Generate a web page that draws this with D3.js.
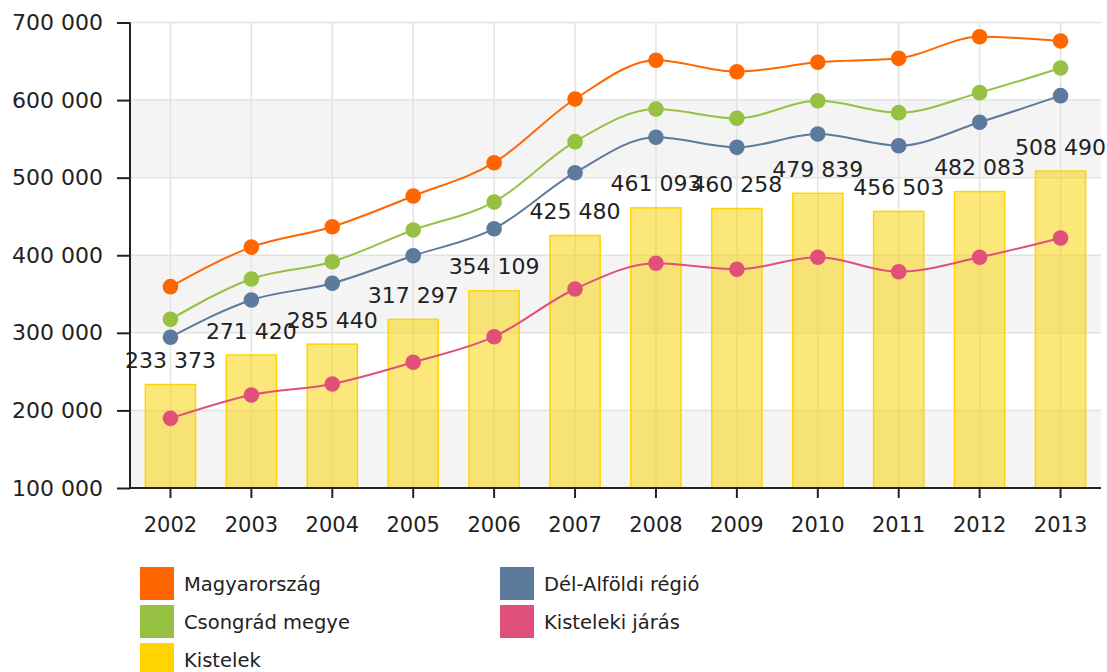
<!DOCTYPE html>
<html lang="hu">
<head>
	<meta charset="utf-8">
	<title>Kistelek</title>
	<script src="https://d3js.org/d3.v7.min.js"></script>
	<style type="text/css">
		body {
			margin: 0;
			background: #fff;
		}
		text {
			font-family: "DejaVu Sans", Verdana, sans-serif;
			fill: #222;
		}
		.axis text {
			font-size: 21px;
		}
		.y-axis text {
			font-size: 22px;
		}
		.legend text {
			font-size: 19.5px;
		}
	</style>
</head>
<body>
<script type="text/javascript">
// Data
var years = ["2002", "2003", "2004", "2005", "2006", "2007", "2008", "2009", "2010", "2011", "2012", "2013"];
var yTicks = [100000, 200000, 300000, 400000, 500000, 600000, 700000];

var kistelek = [233373, 271420, 285440, 317297, 354109, 425480, 461093, 460258, 479839, 456503, 482083, 508490];
var magyarorszag = [359500, 410500, 436800, 476400, 519300, 601400, 651300, 636600, 648700, 653800, 681700, 676200];
var csongrad = [317400, 369400, 391700, 432600, 468700, 546400, 588500, 576500, 599200, 583800, 609600, 641400];
var delAlfold = [294300, 342300, 363900, 399400, 434200, 506400, 552000, 539100, 556300, 541200, 571400, 605700];
var kisteleki = [189800, 219900, 234100, 262000, 295000, 356500, 389600, 381900, 397400, 378800, 397400, 422300];

var lineNames = ["Magyarország", "Csongrád megye", "Dél-Alföldi régió", "Kisteleki járás"];
var lineValues = [magyarorszag, csongrad, delAlfold, kisteleki];
var lineColors = ["#ff6600", "#96c143", "#5c7a9b", "#e0507a"];
var barName = "Kistelek";
var barColor = "#ffd400";

// Size and margins
var margin = {top: 22.5, right: 6, bottom: 184, left: 130};
var outer_width = 1107;
var outer_height = 672;
var width = outer_width - margin.left - margin.right;
var height = outer_height - margin.top - margin.bottom;

var svg = d3.select("body")
	.append("svg")
	.attr("width", outer_width)
	.attr("height", outer_height);

var g = svg.append("g")
	.attr("transform", "translate(" + margin.left + "," + margin.top + ")");

var xScale = d3.scaleBand()
	.domain(years)
	.range([0, width])
	.padding(0);

var yScale = d3.scaleLinear()
	.domain([100000, 700000])
	.range([height, 0]);

var hu = d3.formatLocale({decimal: ",", thousands: " ", grouping: [3], currency: ["", ""]});
var fmt = hu.format(",d");

function cx(i) {
	return xScale(years[i]) + xScale.bandwidth() / 2;
}

// Alternating background bands
g.selectAll(".band")
	.data(yTicks.slice(0, -1))
	.enter()
	.append("rect")
	.attr("class", "band")
	.attr("x", 0)
	.attr("width", width)
	.attr("y", function(d) { return yScale(d + 100000); })
	.attr("height", function(d) { return yScale(d) - yScale(d + 100000); })
	.style("fill", function(d, i) { return i % 2 == 0 ? "#f4f4f4" : "#fff"; });

// Horizontal grid
g.selectAll(".hgrid")
	.data(yTicks)
	.enter()
	.append("line")
	.attr("x1", 0)
	.attr("x2", width)
	.attr("y1", function(d) { return yScale(d); })
	.attr("y2", function(d) { return yScale(d); })
	.style("stroke", "#e3e3e3")
	.style("stroke-width", 1.5);

// Vertical grid at category centres
g.selectAll(".vgrid")
	.data(years)
	.enter()
	.append("line")
	.attr("x1", function(d, i) { return cx(i); })
	.attr("x2", function(d, i) { return cx(i); })
	.attr("y1", 0)
	.attr("y2", height)
	.style("stroke", "#e3e3e3")
	.style("stroke-width", 1.5);

// Bars
var barW = xScale.bandwidth() * 0.62;
g.selectAll(".bar")
	.data(kistelek)
	.enter()
	.append("rect")
	.attr("class", "bar")
	.attr("x", function(d, i) { return cx(i) - barW / 2; })
	.attr("y", function(d) { return yScale(d); })
	.attr("width", barW)
	.attr("height", function(d) { return height - yScale(d); })
	.style("fill", "rgba(250, 210, 0, 0.52)")
	.style("stroke", barColor)
	.style("stroke-width", 1.5);

// Lines and markers
var line = d3.line()
	.x(function(d, i) { return cx(i); })
	.y(function(d) { return yScale(d); })
	.curve(d3.curveMonotoneX);

lineValues.forEach(function(vals, k) {
	g.append("path")
		.datum(vals)
		.attr("d", line)
		.style("fill", "none")
		.style("stroke", lineColors[k])
		.style("stroke-width", 2);

	g.selectAll(".dot" + k)
		.data(vals)
		.enter()
		.append("circle")
		.attr("cx", function(d, i) { return cx(i); })
		.attr("cy", function(d) { return yScale(d); })
		.attr("r", 7.8)
		.style("fill", lineColors[k]);
});

// Bar value labels
g.selectAll(".blabel")
	.data(kistelek)
	.enter()
	.append("text")
	.attr("x", function(d, i) { return cx(i); })
	.attr("y", function(d) { return yScale(d) - 16.5; })
	.attr("text-anchor", "middle")
	.style("font-size", "22px")
	.text(function(d) { return fmt(d); });

// Axes
var yAxis = d3.axisLeft(yScale)
	.tickValues(yTicks)
	.tickSize(13)
	.tickPadding(14)
	.tickFormat(fmt);

var xAxis = d3.axisBottom(xScale)
	.tickSize(10)
	.tickPadding(19);

var ya = g.append("g")
	.attr("class", "axis y-axis")
	.call(yAxis);

var xa = g.append("g")
	.attr("class", "axis")
	.attr("transform", "translate(0," + height + ")")
	.call(xAxis);

svg.selectAll(".axis path").style("stroke", "#222").style("stroke-width", 2);
svg.selectAll(".axis .tick line").style("stroke", "#222").style("stroke-width", 2);
svg.selectAll(".axis text").style("fill", "#222");
ya.select("path").attr("d", "M0," + height + "V0");
xa.select("path").attr("d", "M0,0H" + width);

// Legend
var legendItems = [
	{name: lineNames[0], color: lineColors[0], col: 0, row: 0},
	{name: lineNames[1], color: lineColors[1], col: 0, row: 1},
	{name: barName, color: barColor, col: 0, row: 2},
	{name: lineNames[2], color: lineColors[2], col: 1, row: 0},
	{name: lineNames[3], color: lineColors[3], col: 1, row: 1}
];

var legend = svg.append("g")
	.attr("class", "legend");

var li = legend.selectAll(".item")
	.data(legendItems)
	.enter()
	.append("g")
	.attr("transform", function(d) {
		return "translate(" + (140 + d.col * 360) + "," + (567 + d.row * 38) + ")";
	});

li.append("rect")
	.attr("width", 34)
	.attr("height", 33)
	.style("fill", function(d) { return d.color; });

li.append("text")
	.attr("x", 44)
	.attr("y", 24)
	.text(function(d) { return d.name; });
</script>
</body>
</html>
